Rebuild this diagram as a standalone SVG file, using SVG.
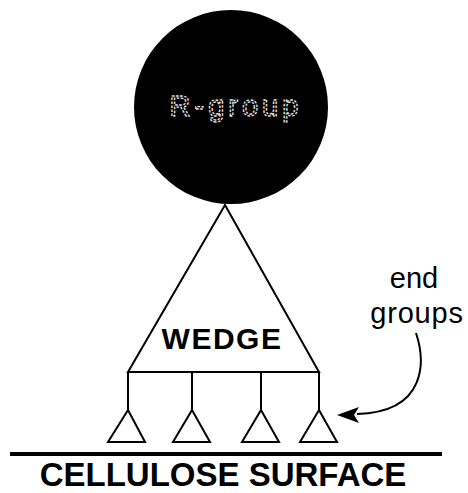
<svg xmlns="http://www.w3.org/2000/svg" width="468" height="493" viewBox="0 0 468 493">
<style>
.ln{stroke:#000;stroke-width:2;fill:none}
.tri{stroke:#000;stroke-width:2;fill:#fff;stroke-linejoin:miter}
.lbl{font-family:"Liberation Sans",Arial,sans-serif;fill:#000}
</style>
<rect width="468" height="493" fill="#fff"/>
<g id="rgroup">
<circle cx="231" cy="107" r="97" fill="#000"/>
<text x="236" y="116" text-anchor="middle" class="lbl" font-size="29" letter-spacing="4" style="fill:#000;stroke:#e6e6e6;stroke-width:1.3;stroke-dasharray:2.5 1.5">R-group</text>
</g>
<g id="wedge">
<path class="ln" d="M128,372 L225,205 L319,372 Z"/>
<text x="222" y="349" text-anchor="middle" class="lbl" font-size="30" font-weight="bold" letter-spacing="1.5">WEDGE</text>
</g>
<g id="connectors">
<path class="ln" d="M128,372 V410 M192,372 V410 M261,372 V410 M319,372 V410"/>
<path class="ln" d="M416,333 C425,360 428,412 357,414"/>
<polygon points="337,415 359,407 354,415 359,423" fill="#000"/>
</g>
<g id="end1"><polygon class="tri" points="128,410 108,442 145,442"/></g>
<g id="end2"><polygon class="tri" points="192,410 173,442 210,442"/></g>
<g id="end3"><polygon class="tri" points="261,410 242,442 279,442"/></g>
<g id="end4"><polygon class="tri" points="319,410 300,442 337,442"/></g>
<g id="endlabel">
<text x="414" y="288" text-anchor="middle" class="lbl" font-size="29">end</text>
<text x="417" y="323" text-anchor="middle" class="lbl" font-size="29" letter-spacing="0.8">groups</text>
</g>
<g id="surface">
<rect x="10" y="452" width="432" height="4" fill="#000"/>
<text x="223" y="486" text-anchor="middle" class="lbl" font-size="33" font-weight="bold">CELLULOSE SURFACE</text>
</g>
</svg>
